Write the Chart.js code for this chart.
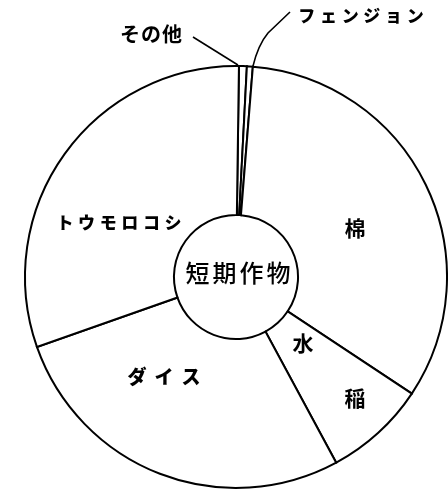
<!DOCTYPE html>
<html>
<head>
<meta charset="utf-8">
<script src="https://cdn.jsdelivr.net/npm/chart.js@4/dist/chart.umd.min.js"></script>
<style>
  html, body { margin: 0; padding: 0; background: #ffffff; }
  #wrap { position: relative; width: 448px; height: 490px; }
</style>
</head>
<body>
<div id="wrap"><canvas id="c" width="448" height="490"></canvas></div>
<script>
// ---- data ----
const categories = ['その他', 'フェンジョン', '棉', '水稲', 'ダイス', 'トウモロコシ'];
const shares = [0.6, 0.45, 33.05, 7.8, 27.5, 30.6];   // percent of area
const centerLabel = '短期作物';

const FONT = '"Noto Sans CJK JP", "Noto Sans CJK SC", sans-serif';

function drawSpaced(ctx, text, x, y, size, pitch, weight) {
  const chars = Array.from(text);
  ctx.font = (weight || 'bold') + ' ' + size + 'px ' + FONT;
  ctx.textAlign = 'center';
  ctx.textBaseline = 'middle';
  const start = x - pitch * (chars.length - 1) / 2;
  chars.forEach((ch, i) => ctx.fillText(ch, start + i * pitch, y));
}

const labelPlugin = {
  id: 'labels',
  afterDatasetsDraw(chart) {
    const ctx = chart.ctx;
    const arcs = chart.getDatasetMeta(0).data;
    const cx = arcs[0].x, cy = arcs[0].y;
    const R = arcs[0].outerRadius;
    ctx.save();
    ctx.fillStyle = '#000';
    ctx.strokeStyle = '#000';
    ctx.lineWidth = 1.6;

    // centre label
    drawSpaced(ctx, centerLabel, cx + 2, cy - 4, 24, 27, '500');

    // slice labels
    drawSpaced(ctx, categories[2], cx + 119, cy - 49, 21, 0);
    drawSpaced(ctx, categories[3].charAt(0), cx + 67, cy + 66, 21, 0);
    drawSpaced(ctx, categories[3].charAt(1), cx + 119, cy + 121, 21, 0);
    drawSpaced(ctx, categories[4], cx - 72, cy + 100, 19, 27, '900');
    drawSpaced(ctx, categories[5], cx - 117, cy - 54, 17, 21.6, '900');

    // outside labels with leader lines
    drawSpaced(ctx, categories[0], cx - 85, cy - 243, 20, 21);
    drawSpaced(ctx, categories[1], cx + 125, cy - 261, 17, 21.7, '900');

    const a0 = arcs[0].startAngle;
    const e0x = cx + R * Math.cos(a0), e0y = cy + R * Math.sin(a0);
    ctx.beginPath();
    ctx.moveTo(cx - 43, cy - 240);
    ctx.lineTo(e0x - 1, e0y - 1);
    ctx.stroke();

    const a1 = arcs[1].endAngle;
    const e1x = cx + R * Math.cos(a1), e1y = cy + R * Math.sin(a1);
    ctx.beginPath();
    ctx.moveTo(cx + 54, cy - 265);
    ctx.lineTo(cx + 32, cy - 244);
    ctx.quadraticCurveTo(cx + 22, cy - 232, e1x, e1y);
    ctx.stroke();
    ctx.restore();
  }
};

new Chart(document.getElementById('c'), {
  type: 'doughnut',
  data: {
    labels: categories,
    datasets: [{
      data: shares,
      backgroundColor: '#ffffff',
      borderColor: '#000000',
      borderWidth: 2,
      borderJoinStyle: 'miter'
    }]
  },
  options: {
    responsive: false,
    animation: false,
    rotation: 0.8,
    cutout: '29.4%',
    layout: { padding: { left: 24, top: 65, right: 0, bottom: 1 } },
    plugins: {
      legend: { display: false },
      tooltip: { enabled: false },
      title: { display: false }
    }
  },
  plugins: [labelPlugin]
});
</script>
</body>
</html>
